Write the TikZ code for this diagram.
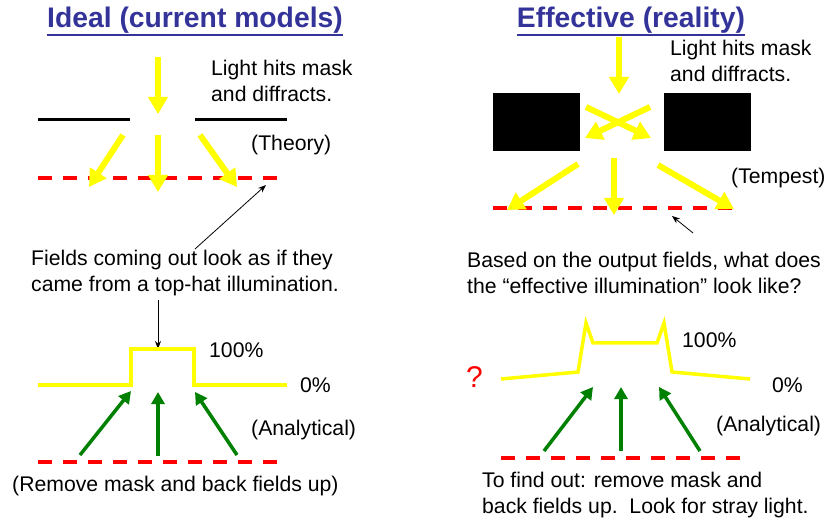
\documentclass[tikz,border=0pt]{standalone}
\usepackage{fontspec}
\setmainfont{Liberation Sans}
\usetikzlibrary{arrows.meta}
\definecolor{ttl}{HTML}{333399}
\definecolor{ylw}{HTML}{FFFF00}
\definecolor{grn}{HTML}{008000}
\definecolor{rd}{HTML}{FF0000}
\tikzset{
  txt/.style={inner sep=0pt, font=\fontsize{21.2}{26.5}\selectfont, anchor=west, align=left},
  ttltxt/.style={inner sep=0pt, font=\fontsize{28.3}{32}\selectfont\bfseries, text=ttl},
  yarrow/.style={draw=ylw, line width=6pt, -{Triangle[width=19pt,length=17pt]}},
  garrow/.style={draw=grn, line width=3.5pt, -{Triangle[width=13pt,length=12pt]}},
  rdash/.style={draw=rd, line width=4pt, dash pattern=on 14pt off 11pt},
  thin/.style={draw=black, line width=0.8pt, -{Stealth[length=8pt,width=6pt]}},
  mask/.style={draw=black, line width=3pt},
  hat/.style={draw=ylw, line width=3.5pt, line join=miter},
}
\begin{document}
\begin{tikzpicture}[x=1pt,y=-1pt]
\useasboundingbox (0,0) rectangle (825,521);
% titles
\node[ttltxt] (t1) at (195,20) {Ideal (current models)};
\draw[ttl, line width=2pt] (t1.south west) ++(0,2) -- ([yshift=-2pt]t1.south east);
\node[ttltxt] (t2) at (631,20) {Effective (reality)};
\draw[ttl, line width=2pt] (t2.south west) ++(0,2) -- ([yshift=-2pt]t2.south east);

% ===== LEFT =====
\node[txt] (l1) at (211,81) {Light hits mask\\and diffracts.};
\draw[yarrow] (158,57) -- (158,114);
\draw[mask] (38,120) -- (130,120);
\draw[mask] (195,120) -- (287,120);
\node[txt] (theory) at (251,145) {(Theory)};
\draw[rdash] (38,178) -- (278,178);
\draw[yarrow] (123,135) -- (89,187);
\draw[yarrow] (158,135) -- (158,192);
\draw[yarrow] (200,135) -- (237,187);
\node[txt] (fields) at (31,273) {Fields coming out look as if they\\came from a top-hat illumination.};
\coordinate (fa) at (195,249);
\coordinate (fb) at (266,185);
\draw[thin] (fa) -- (fb);
\coordinate (ha) at (158,300);
\coordinate (hb) at (158,349);
\draw[thin] (ha) -- (hb);
\draw[hat] (38,385) -- (131,385) -- (131,349) -- (194,349) -- (194,385) -- (287,385);
\node[txt] (p100) at (209,350) {100\%};
\node[txt] (p0) at (300,385) {0\%};
\draw[garrow] (80,455) -- (131,391);
\draw[garrow] (158,456) -- (158,392);
\draw[garrow] (237,455) -- (195,392);
\node[txt] (anl) at (251,430) {(Analytical)};
\draw[rdash] (38,462) -- (278,462);
\node[txt] (remove) at (12,486) {(Remove mask and back fields up)};

% ===== RIGHT =====
\node[txt] (r1) at (670,61) {Light hits mask\\and diffracts.};
\draw[yarrow] (619,37) -- (619,94);
\fill[black] (493,93) rectangle (580,151);
\fill[black] (664,93) rectangle (751,151);
\draw[yarrow] (586,107) -- (651,138);
\draw[yarrow] (650,107) -- (585,138);
\draw[rdash] (493,208) -- (740,208);
\draw[yarrow] (578,164) -- (507,210);
\draw[yarrow] (614,158) -- (614,215);
\draw[yarrow] (658,165) -- (734,209);
\node[txt] (tempest) at (731,178) {(Tempest)};
\coordinate (ra) at (693,233);
\coordinate (rb) at (672,216);
\draw[thin] (ra) -- (rb);
\node[txt] (based) at (467,273) {Based on the output fields, what does\\the “effective illumination” look like?};
\draw[hat, line width=3.5pt] (501,379) -- (578,372) -- (586,323) -- (593,343) -- (657,343) -- (664,323) -- (672,372) -- (750,379);
\node[txt, text=rd, font=\fontsize{30}{32}\selectfont] (q) at (466,377) {?};
\node[txt] (r100) at (682,340) {100\%};
\node[txt] (r0) at (772,385) {0\%};
\draw[garrow] (544,451) -- (593,387);
\draw[garrow] (621,451) -- (621,387);
\draw[garrow] (700,451) -- (659,387);
\node[txt] (ranl) at (716,426) {(Analytical)};
\draw[rdash] (501,458) -- (741,458);
\node[txt] (find) at (482,495) {To find out: remove mask and\\back fields up.\ \ Look for stray light.};
\end{tikzpicture}
\end{document}
